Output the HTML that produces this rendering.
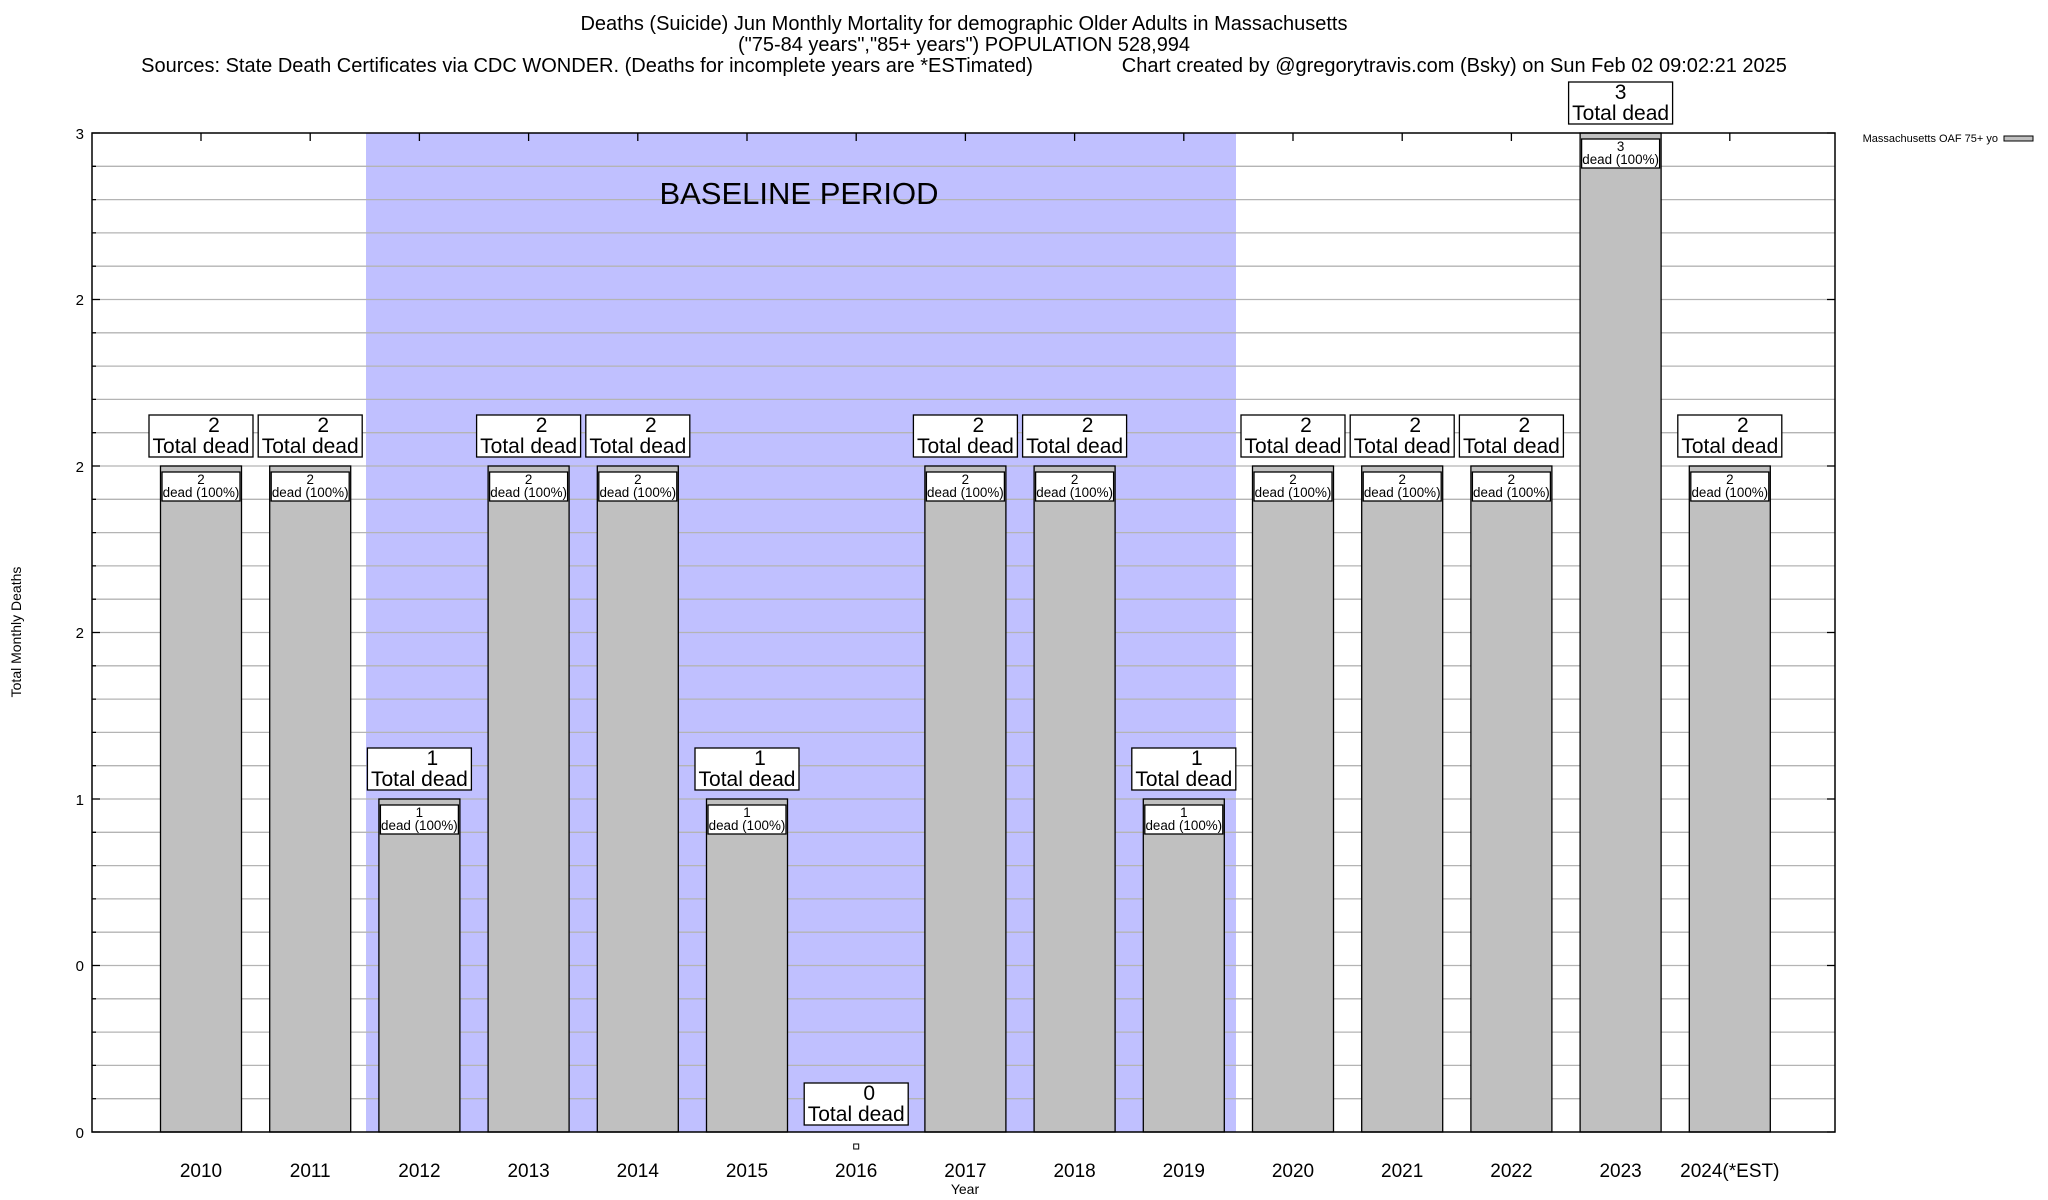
<!DOCTYPE html>
<html><head><meta charset="utf-8"><style>
html,body{margin:0;padding:0;background:#fff;}
svg{display:block;font-family:"Liberation Sans",Arial,sans-serif;}
.bar{fill:#c0c0c0;stroke:#000;stroke-width:1.3}
.ib{fill:#fff;stroke:#000;stroke-width:1.3}
.ob{fill:#fff;stroke:#000;stroke-width:1.3}
.s{font-size:13.4px;text-anchor:middle}
.m{font-size:21px;text-anchor:middle}
.xl{font-size:19px;text-anchor:middle}
.yl{font-size:15px;text-anchor:end}
.t{font-size:20px;text-anchor:middle}
</style></head><body>
<svg width="2048" height="1200" viewBox="0 0 2048 1200" xmlns="http://www.w3.org/2000/svg">
<rect width="2048" height="1200" fill="#fff"/>
<text class="t" x="964" y="30">Deaths (Suicide) Jun Monthly Mortality for demographic Older Adults in Massachusetts</text>
<text class="t" x="964" y="51">("75-84 years","85+ years") POPULATION 528,994</text>
<text class="t" x="964" y="72" xml:space="preserve">Sources: State Death Certificates via CDC WONDER. (Deaths for incomplete years are *ESTimated)                Chart created by @gregorytravis.com (Bsky) on Sun Feb 02 09:02:21 2025</text>

<rect x="366" y="133" width="870" height="999" fill="#c0c0ff"/>
<path stroke="#b4b4b4" stroke-width="1.3" fill="none" d="M92 1098.7H1835M92 1065.4H1835M92 1032.1H1835M92 998.8H1835M92 965.5H1835M92 932.2H1835M92 898.9H1835M92 865.6H1835M92 832.3H1835M92 799H1835M92 765.7H1835M92 732.4H1835M92 699.1H1835M92 665.8H1835M92 632.5H1835M92 599.2H1835M92 565.9H1835M92 532.6H1835M92 499.3H1835M92 466H1835M92 432.7H1835M92 399.4H1835M92 366.1H1835M92 332.8H1835M92 299.5H1835M92 266.2H1835M92 232.9H1835M92 199.6H1835M92 166.3H1835"/>
<text x="799" y="204" style="font-size:31px;text-anchor:middle">BASELINE PERIOD</text>

<path stroke="#000" stroke-width="1.3" fill="none" d="M92 1132h8M92 965.5h8M92 799h8M92 632.5h8M92 466h8M92 299.5h8M92 133h8M1835 1132h-8M1835 965.5h-8M1835 799h-8M1835 632.5h-8M1835 466h-8M1835 299.5h-8M1835 133h-8M92 1098.7h4M92 1065.4h4M92 1032.1h4M92 998.8h4M92 932.2h4M92 898.9h4M92 865.6h4M92 832.3h4M92 765.7h4M92 732.4h4M92 699.1h4M92 665.8h4M92 599.2h4M92 565.9h4M92 532.6h4M92 499.3h4M92 432.7h4M92 399.4h4M92 366.1h4M92 332.8h4M92 266.2h4M92 232.9h4M92 199.6h4M92 166.3h4M201 133v8M310.2 133v8M419.4 133v8M528.6 133v8M637.8 133v8M747 133v8M856.2 133v8M965.4 133v8M1074.6 133v8M1183.8 133v8M1293 133v8M1402.2 133v8M1511.4 133v8M1620.6 133v8M1729.8 133v8"/>

<g transform="translate(201,466)"><rect x="-40.5" y="0" width="81" height="666" class="bar"/><rect x="-39" y="6" width="78" height="29" class="ib"/><text x="0" y="18" class="s">2</text><text x="0" y="31" class="s">dead (100%)</text><rect x="-52" y="-51" width="104" height="42" class="ob"/><text x="13" y="-34" class="m">2</text><text x="0" y="-13" class="m">Total dead</text></g>
<g transform="translate(310.2,466)"><rect x="-40.5" y="0" width="81" height="666" class="bar"/><rect x="-39" y="6" width="78" height="29" class="ib"/><text x="0" y="18" class="s">2</text><text x="0" y="31" class="s">dead (100%)</text><rect x="-52" y="-51" width="104" height="42" class="ob"/><text x="13" y="-34" class="m">2</text><text x="0" y="-13" class="m">Total dead</text></g>
<g transform="translate(419.4,799)"><rect x="-40.5" y="0" width="81" height="333" class="bar"/><rect x="-39" y="6" width="78" height="29" class="ib"/><text x="0" y="18" class="s">1</text><text x="0" y="31" class="s">dead (100%)</text><rect x="-52" y="-51" width="104" height="42" class="ob"/><text x="13" y="-34" class="m">1</text><text x="0" y="-13" class="m">Total dead</text></g>
<g transform="translate(528.6,466)"><rect x="-40.5" y="0" width="81" height="666" class="bar"/><rect x="-39" y="6" width="78" height="29" class="ib"/><text x="0" y="18" class="s">2</text><text x="0" y="31" class="s">dead (100%)</text><rect x="-52" y="-51" width="104" height="42" class="ob"/><text x="13" y="-34" class="m">2</text><text x="0" y="-13" class="m">Total dead</text></g>
<g transform="translate(637.8,466)"><rect x="-40.5" y="0" width="81" height="666" class="bar"/><rect x="-39" y="6" width="78" height="29" class="ib"/><text x="0" y="18" class="s">2</text><text x="0" y="31" class="s">dead (100%)</text><rect x="-52" y="-51" width="104" height="42" class="ob"/><text x="13" y="-34" class="m">2</text><text x="0" y="-13" class="m">Total dead</text></g>
<g transform="translate(747,799)"><rect x="-40.5" y="0" width="81" height="333" class="bar"/><rect x="-39" y="6" width="78" height="29" class="ib"/><text x="0" y="18" class="s">1</text><text x="0" y="31" class="s">dead (100%)</text><rect x="-52" y="-51" width="104" height="42" class="ob"/><text x="13" y="-34" class="m">1</text><text x="0" y="-13" class="m">Total dead</text></g>
<g transform="translate(856.2,1132)"><rect x="-52" y="-49" width="104" height="42" class="ob"/><text x="13" y="-32" class="m">0</text><text x="0" y="-11" class="m">Total dead</text><rect x="-2.5" y="12" width="5" height="5" fill="#fff" stroke="#000" stroke-width="1"/></g>
<g transform="translate(965.4,466)"><rect x="-40.5" y="0" width="81" height="666" class="bar"/><rect x="-39" y="6" width="78" height="29" class="ib"/><text x="0" y="18" class="s">2</text><text x="0" y="31" class="s">dead (100%)</text><rect x="-52" y="-51" width="104" height="42" class="ob"/><text x="13" y="-34" class="m">2</text><text x="0" y="-13" class="m">Total dead</text></g>
<g transform="translate(1074.6,466)"><rect x="-40.5" y="0" width="81" height="666" class="bar"/><rect x="-39" y="6" width="78" height="29" class="ib"/><text x="0" y="18" class="s">2</text><text x="0" y="31" class="s">dead (100%)</text><rect x="-52" y="-51" width="104" height="42" class="ob"/><text x="13" y="-34" class="m">2</text><text x="0" y="-13" class="m">Total dead</text></g>
<g transform="translate(1183.8,799)"><rect x="-40.5" y="0" width="81" height="333" class="bar"/><rect x="-39" y="6" width="78" height="29" class="ib"/><text x="0" y="18" class="s">1</text><text x="0" y="31" class="s">dead (100%)</text><rect x="-52" y="-51" width="104" height="42" class="ob"/><text x="13" y="-34" class="m">1</text><text x="0" y="-13" class="m">Total dead</text></g>
<g transform="translate(1293,466)"><rect x="-40.5" y="0" width="81" height="666" class="bar"/><rect x="-39" y="6" width="78" height="29" class="ib"/><text x="0" y="18" class="s">2</text><text x="0" y="31" class="s">dead (100%)</text><rect x="-52" y="-51" width="104" height="42" class="ob"/><text x="13" y="-34" class="m">2</text><text x="0" y="-13" class="m">Total dead</text></g>
<g transform="translate(1402.2,466)"><rect x="-40.5" y="0" width="81" height="666" class="bar"/><rect x="-39" y="6" width="78" height="29" class="ib"/><text x="0" y="18" class="s">2</text><text x="0" y="31" class="s">dead (100%)</text><rect x="-52" y="-51" width="104" height="42" class="ob"/><text x="13" y="-34" class="m">2</text><text x="0" y="-13" class="m">Total dead</text></g>
<g transform="translate(1511.4,466)"><rect x="-40.5" y="0" width="81" height="666" class="bar"/><rect x="-39" y="6" width="78" height="29" class="ib"/><text x="0" y="18" class="s">2</text><text x="0" y="31" class="s">dead (100%)</text><rect x="-52" y="-51" width="104" height="42" class="ob"/><text x="13" y="-34" class="m">2</text><text x="0" y="-13" class="m">Total dead</text></g>
<g transform="translate(1620.6,133)"><rect x="-40.5" y="0" width="81" height="999" class="bar"/><rect x="-39" y="6" width="78" height="29" class="ib"/><text x="0" y="18" class="s">3</text><text x="0" y="31" class="s">dead (100%)</text><rect x="-52" y="-51" width="104" height="42" class="ob"/><text x="0" y="-34" class="m">3</text><text x="0" y="-13" class="m">Total dead</text></g>
<g transform="translate(1729.8,466)"><rect x="-40.5" y="0" width="81" height="666" class="bar"/><rect x="-39" y="6" width="78" height="29" class="ib"/><text x="0" y="18" class="s">2</text><text x="0" y="31" class="s">dead (100%)</text><rect x="-52" y="-51" width="104" height="42" class="ob"/><text x="13" y="-34" class="m">2</text><text x="0" y="-13" class="m">Total dead</text></g>

<rect x="92" y="133" width="1743" height="999" fill="none" stroke="#000" stroke-width="1.5"/>

<text class="yl" x="84" y="1138">0</text>
<text class="yl" x="84" y="971">0</text>
<text class="yl" x="84" y="805">1</text>
<text class="yl" x="84" y="638">2</text>
<text class="yl" x="84" y="472">2</text>
<text class="yl" x="84" y="305">2</text>
<text class="yl" x="84" y="139">3</text>

<text class="xl" x="201" y="1177">2010</text>
<text class="xl" x="310.2" y="1177">2011</text>
<text class="xl" x="419.4" y="1177">2012</text>
<text class="xl" x="528.6" y="1177">2013</text>
<text class="xl" x="637.8" y="1177">2014</text>
<text class="xl" x="747" y="1177">2015</text>
<text class="xl" x="856.2" y="1177">2016</text>
<text class="xl" x="965.4" y="1177">2017</text>
<text class="xl" x="1074.6" y="1177">2018</text>
<text class="xl" x="1183.8" y="1177">2019</text>
<text class="xl" x="1293" y="1177">2020</text>
<text class="xl" x="1402.2" y="1177">2021</text>
<text class="xl" x="1511.4" y="1177">2022</text>
<text class="xl" x="1620.6" y="1177">2023</text>
<text class="xl" x="1729.8" y="1177">2024(*EST)</text>
<text x="965" y="1194" style="font-size:14px;text-anchor:middle">Year</text>
<text x="0" y="0" transform="translate(21,632) rotate(-90)" style="font-size:14px;text-anchor:middle">Total Monthly Deaths</text>

<text x="1998" y="142" style="font-size:11px;text-anchor:end">Massachusetts OAF 75+ yo</text>
<rect x="2004" y="136" width="29" height="5" fill="#c0c0c0" stroke="#000" stroke-width="1"/>
</svg>
</body></html>
